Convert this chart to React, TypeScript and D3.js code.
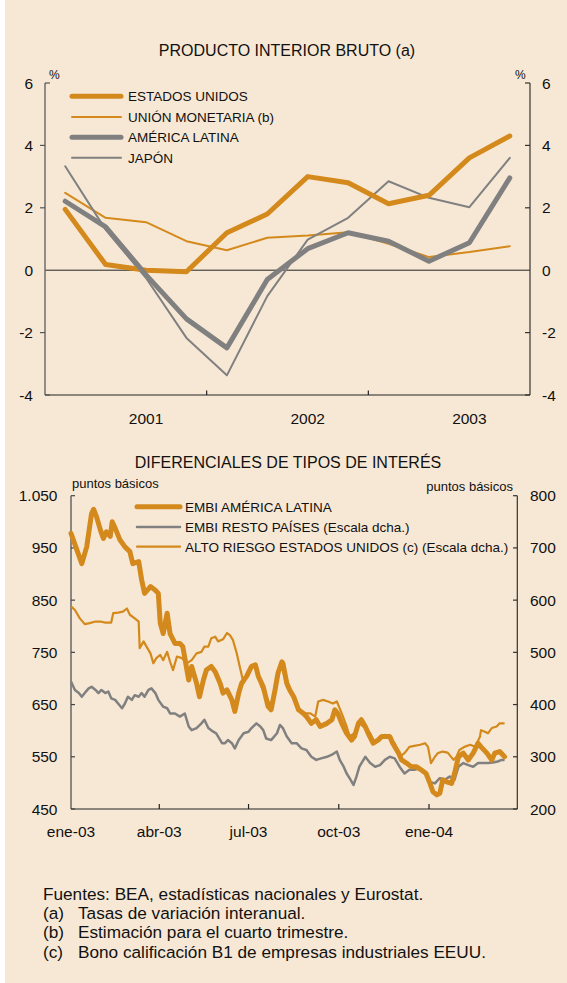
import React from 'react';
import * as d3 from 'd3';

// ---------- Top chart data (GDP, % yoy) ----------
const QUARTERS = ['I-01', 'II-01', 'III-01', 'IV-01', 'I-02', 'II-02', 'III-02', 'IV-02', 'I-03', 'II-03', 'III-03', 'IV-03'];
const YEAR_LABELS = ['2001', '2002', '2003'];
const YEAR_LABEL_QUARTERS = ['III-01', 'III-02', 'III-03'];
const YEAR_TICK_QUARTERS = ['I-02', 'I-03'];
const GDP_US = [1.95, 0.18, 0.0, -0.05, 1.2, 1.8, 3.0, 2.8, 2.13, 2.4, 3.6, 4.3];
const GDP_EMU = [2.48, 1.68, 1.54, 0.93, 0.64, 1.04, 1.11, 1.22, 0.85, 0.42, 0.58, 0.77];
const GDP_LATAM = [2.21, 1.39, -0.15, -1.56, -2.49, -0.3, 0.69, 1.2, 0.93, 0.29, 0.88, 2.96];
const GDP_JAPAN = [3.33, 1.3, -0.25, -2.17, -3.37, -0.83, 0.98, 1.68, 2.85, 2.32, 2.02, 3.6];
const GDP_TICKS = [6, 4, 2, 0, -2, -4];
const GDP_LEGEND = ['ESTADOS UNIDOS', 'UNIÓN MONETARIA (b)', 'AMÉRICA LATINA', 'JAPÓN'];

// ---------- Bottom chart data (spreads, basis points) ----------
// [days since 1 Jan 2003, value]
const EMBI_LATAM: [number, number][] = [
  [0, 978], [11, 920], [16, 952], [21, 1016], [23, 1024], [26, 1010], [30, 984], [33, 968], [36, 981], [40, 972],
  [42, 1000], [45, 988], [50, 965], [55, 952], [60, 943], [63, 920], [69, 924], [72, 889], [75, 863], [81, 876],
  [86, 869], [89, 863], [91, 806], [94, 786], [98, 825], [101, 786], [106, 767], [111, 767], [114, 761], [120, 697],
  [123, 723], [128, 691], [131, 665], [135, 697], [138, 716], [143, 723], [147, 713], [152, 691], [155, 672], [159, 678],
  [164, 659], [167, 637], [171, 672], [174, 691], [179, 704], [184, 723], [188, 726], [191, 704], [196, 684], [201, 646],
  [204, 640], [208, 678], [211, 710], [215, 732], [216, 729], [220, 691], [223, 678], [227, 665], [232, 640], [237, 633],
  [240, 627], [245, 614], [250, 621], [254, 608], [261, 614], [266, 621], [269, 640], [272, 633], [276, 614], [281, 595],
  [286, 582], [289, 589], [293, 614], [296, 621], [300, 608], [303, 595], [308, 576], [313, 582], [317, 589], [320, 589],
  [325, 589], [328, 576], [334, 557], [337, 544], [342, 538], [347, 531], [352, 531], [357, 525], [362, 518], [366, 499],
  [369, 483], [373, 477], [376, 480], [379, 506], [383, 502], [388, 499], [391, 518], [395, 550], [400, 557], [405, 544],
  [410, 557], [415, 576], [418, 569], [424, 557], [429, 544], [432, 557], [437, 560], [442, 550],
];
const EMBI_REST: [number, number][] = [
  [0, 444], [4, 428], [8, 422], [11, 415], [14, 422], [18, 431], [21, 434], [25, 428], [28, 422], [31, 428],
  [35, 422], [38, 425], [41, 412], [45, 409], [48, 402], [52, 393], [55, 402], [58, 415], [62, 409], [65, 418],
  [69, 415], [72, 422], [75, 415], [79, 428], [82, 431], [86, 422], [89, 409], [94, 396], [98, 393], [101, 383],
  [106, 383], [111, 377], [116, 383], [120, 358], [123, 351], [128, 355], [133, 364], [136, 371], [140, 355], [145, 348],
  [148, 345], [154, 326], [157, 326], [160, 332], [164, 326], [167, 316], [171, 332], [176, 345], [181, 348], [184, 355],
  [189, 364], [193, 358], [196, 351], [199, 335], [204, 332], [210, 345], [213, 361], [216, 355], [220, 339], [225, 326],
  [230, 326], [235, 316], [240, 313], [245, 300], [250, 294], [255, 297], [261, 300], [266, 304], [271, 310], [274, 294],
  [278, 281], [281, 268], [284, 259], [288, 246], [291, 262], [294, 281], [300, 300], [305, 288], [310, 281], [315, 284],
  [320, 294], [325, 300], [330, 297], [335, 281], [340, 268], [345, 275], [350, 275], [356, 278], [361, 268], [366, 252],
  [371, 249], [376, 259], [381, 256], [386, 262], [391, 256], [395, 281], [400, 288], [405, 284], [410, 281], [415, 288],
  [420, 288], [425, 288], [430, 289], [435, 291], [439, 294], [442, 294],
];
const HIGH_YIELD_US: [number, number][] = [
  [0, 588], [4, 581], [9, 565], [14, 554], [19, 556], [25, 559], [30, 559], [35, 557], [41, 557], [43, 575],
  [48, 576], [53, 578], [57, 584], [60, 572], [65, 565], [69, 559], [70, 508], [74, 521], [77, 511], [81, 498],
  [84, 479], [87, 489], [91, 495], [94, 485], [98, 501], [101, 482], [104, 466], [108, 492], [113, 489], [118, 479],
  [123, 485], [128, 498], [133, 501], [136, 511], [140, 511], [143, 527], [147, 530], [150, 521], [155, 525], [159, 537],
  [162, 533], [165, 524], [169, 498], [172, 473], [176, 441], [179, 454], [184, 476], [189, 473], [194, 434], [199, 415],
  [204, 396], [208, 422], [213, 473], [216, 466], [220, 434], [225, 422], [228, 409], [233, 390], [238, 383], [244, 383],
  [249, 377], [252, 406], [257, 409], [262, 406], [267, 402], [271, 406], [276, 383], [281, 358], [284, 339], [289, 345],
  [294, 364], [300, 355], [305, 345], [310, 326], [315, 339], [320, 342], [325, 335], [330, 326], [335, 300], [340, 307],
  [345, 319], [350, 321], [356, 323], [361, 326], [364, 319], [367, 288], [371, 300], [374, 307], [379, 310], [384, 308],
  [390, 294], [393, 300], [396, 313], [401, 319], [407, 323], [412, 319], [417, 339], [418, 351], [422, 348], [425, 345],
  [429, 355], [434, 358], [437, 364], [442, 364],
];
const SPREAD_START = Date.UTC(2003, 0, 1);
const SPREAD_END = Date.UTC(2004, 2, 31);
const LEFT_TICKS = [1050, 950, 850, 750, 650, 550, 450];
const RIGHT_TICKS = [800, 700, 600, 500, 400, 300, 200];
const MONTH_TICKS = [Date.UTC(2003, 0, 1), Date.UTC(2003, 3, 1), Date.UTC(2003, 6, 1), Date.UTC(2003, 9, 1), Date.UTC(2004, 0, 1)];
const MONTH_LABELS = ['ene-03', 'abr-03', 'jul-03', 'oct-03', 'ene-04'];
const SPREAD_LEGEND = ['EMBI AMÉRICA LATINA', 'EMBI RESTO PAÍSES (Escala dcha.)', 'ALTO RIESGO ESTADOS UNIDOS (c) (Escala dcha.)'];

const NOTES = [
  ['', 'Fuentes: BEA, estadísticas nacionales y Eurostat.'],
  ['(a)', 'Tasas de variación interanual.'],
  ['(b)', 'Estimación para el cuarto trimestre.'],
  ['(c)', 'Bono calificación B1 de empresas industriales EEUU.'],
];

const ORANGE = '#D4891C';
const GREY = '#808080';
const BG = '#F7E8D5';
const FONT = '"Liberation Sans", Arial, Helvetica, sans-serif';
const INK = '#111111';

export default function App() {
  // Top chart scales
  const xQ = d3.scaleBand<string>().domain(QUARTERS).range([45, 530]);
  const bw = xQ.bandwidth();
  const qx = (q: string) => (xQ(q) as number) + bw / 2;
  const yG = d3.scaleLinear().domain([-4, 6]).range([395, 83]);
  const gdpLine = d3
    .line<number>()
    .x((_, i) => qx(QUARTERS[i]))
    .y((d) => yG(d));

  // Bottom chart scales
  const xT = d3.scaleUtc().domain([SPREAD_START, SPREAD_END]).range([71, 517.3]);
  const yL = d3.scaleLinear().domain([450, 1050]).range([809, 495.7]);
  const yR = d3.scaleLinear().domain([200, 800]).range([809, 495.7]);
  const dayDate = (d: number) => d3.utcDay.offset(new Date(SPREAD_START), d);
  const lineL = d3
    .line<[number, number]>()
    .x((d) => xT(dayDate(d[0])))
    .y((d) => yL(d[1]));
  const lineR = d3
    .line<[number, number]>()
    .x((d) => xT(dayDate(d[0])))
    .y((d) => yR(d[1]));
  const fmtThousands = (v: number) => (v >= 1000 ? d3.format(',')(v).replace(',', '.') : String(v));

  const gdpSeries = [
    { data: GDP_US, color: ORANGE, w: 5 },
    { data: GDP_EMU, color: ORANGE, w: 2 },
    { data: GDP_LATAM, color: GREY, w: 5 },
    { data: GDP_JAPAN, color: GREY, w: 2 },
  ];
  const gdpDrawOrder = [1, 3, 0, 2];
  const legendBaselines = [101.3, 122, 142.3, 162.7];

  const spreadLegend = [
    { color: ORANGE, w: 5 },
    { color: GREY, w: 2.5 },
    { color: ORANGE, w: 2.2 },
  ];
  const spreadLegendBaselines = [511.7, 532, 551.7];
  const noteY = (i: number) => 900 + i * 19.2;

  return (
    <svg
      width={567}
      height={983}
      style={{ position: 'absolute', left: 0, top: 0, display: 'block' }}
      fontFamily={FONT}
    >
      <rect x={0} y={0} width={567} height={983} fill="#ffffff" />
      <rect x={5} y={0} width={562} height={983} fill={BG} />

      {/* ---------------- TOP CHART ---------------- */}
      <text x={287} y={56} textAnchor="middle" fontSize={16} fill={INK}>
        PRODUCTO INTERIOR BRUTO (a)
      </text>
      <text x={49} y={79} fontSize={12} fill={INK}>%</text>
      <text x={515} y={79} fontSize={12} fill={INK}>%</text>

      {/* zero line */}
      <line x1={45} x2={530} y1={yG(0)} y2={yG(0)} stroke="#222" strokeWidth={1} />

      {/* axes */}
      <line x1={45} x2={45} y1={yG(6)} y2={yG(-4)} stroke="#6e6e6e" strokeWidth={1.5} />
      <line x1={530} x2={530} y1={yG(6)} y2={yG(-4)} stroke="#333" strokeWidth={1.2} />
      <line x1={45} x2={530} y1={yG(-4)} y2={yG(-4)} stroke="#222" strokeWidth={1.2} />
      {GDP_TICKS.map((t) => {
        const y = yG(t);
        const edge = t === 6 || t === -4;
        return (
          <g key={'gt' + t}>
            {t !== 0 && (
              <line x1={edge ? 45 : 40} x2={edge ? 50 : 45} y1={y} y2={y} stroke="#555" strokeWidth={1.2} />
            )}
            {t !== 0 && <line x1={525} x2={530} y1={y} y2={y} stroke="#333" strokeWidth={1.2} />}
            <text x={33} y={y} dy="0.36em" textAnchor="end" fontSize={15.5} fill={INK}>
              {t}
            </text>
            <text x={542} y={y} dy="0.36em" textAnchor="start" fontSize={15.5} fill={INK}>
              {t}
            </text>
          </g>
        );
      })}
      {YEAR_TICK_QUARTERS.map((q) => (
        <line key={q} x1={xQ(q)} x2={xQ(q)} y1={yG(-4)} y2={yG(-4) - 4.5} stroke="#222" strokeWidth={1.2} />
      ))}
      {YEAR_LABELS.map((lbl, i) => (
        <text key={lbl} x={qx(YEAR_LABEL_QUARTERS[i])} y={424} textAnchor="middle" fontSize={15.5} fill={INK}>
          {lbl}
        </text>
      ))}

      {/* series */}
      {gdpDrawOrder.map((k) => (
        <path
          key={'gs' + k}
          d={gdpLine(gdpSeries[k].data) || ''}
          fill="none"
          stroke={gdpSeries[k].color}
          strokeWidth={gdpSeries[k].w}
          strokeLinejoin="round"
          strokeLinecap="round"
        />
      ))}

      {/* legend */}
      {GDP_LEGEND.map((lbl, i) => (
        <g key={lbl}>
          <line
            x1={72}
            x2={121}
            y1={legendBaselines[i] - 5}
            y2={legendBaselines[i] - 5}
            stroke={gdpSeries[i].color}
            strokeWidth={gdpSeries[i].w}
            strokeLinecap="round"
          />
          <text x={128} y={legendBaselines[i]} fontSize={13.5} fill={INK}>
            {lbl}
          </text>
        </g>
      ))}

      {/* ---------------- BOTTOM CHART ---------------- */}
      <text x={288} y={468.3} textAnchor="middle" fontSize={16} fill={INK}>
        DIFERENCIALES DE TIPOS DE INTERÉS
      </text>
      <text x={72} y={488} fontSize={13} fill={INK}>puntos básicos</text>
      <text x={513} y={490.5} textAnchor="end" fontSize={13} fill={INK}>puntos básicos</text>

      {/* legend */}
      {SPREAD_LEGEND.map((lbl, i) => (
        <g key={lbl}>
          <line
            x1={137}
            x2={180}
            y1={spreadLegendBaselines[i] - 5}
            y2={spreadLegendBaselines[i] - 5}
            stroke={spreadLegend[i].color}
            strokeWidth={spreadLegend[i].w}
            strokeLinecap="round"
          />
          <text x={185} y={spreadLegendBaselines[i]} fontSize={13.5} fill={INK}>
            {lbl}
          </text>
        </g>
      ))}

      <line x1={71} x2={71} y1={yL(1050)} y2={yL(450)} stroke="#666" strokeWidth={1.5} />
      <line x1={517.3} x2={517.3} y1={yR(800)} y2={yR(200)} stroke="#333" strokeWidth={1.2} />
      <line x1={71} x2={517.3} y1={yL(450)} y2={yL(450)} stroke="#222" strokeWidth={1.2} />
      {LEFT_TICKS.map((t) => (
        <g key={'lt' + t}>
          <line x1={71} x2={75} y1={yL(t)} y2={yL(t)} stroke="#444" strokeWidth={1.2} />
          <text x={57.5} y={yL(t)} dy="0.36em" textAnchor="end" fontSize={15.5} fill={INK}>
            {fmtThousands(t)}
          </text>
        </g>
      ))}
      {RIGHT_TICKS.map((t) => (
        <g key={'rt' + t}>
          <line x1={513} x2={517.3} y1={yR(t)} y2={yR(t)} stroke="#333" strokeWidth={1.2} />
          <text x={530} y={yR(t)} dy="0.36em" textAnchor="start" fontSize={15.5} fill={INK}>
            {t}
          </text>
        </g>
      ))}
      {MONTH_TICKS.map((m, i) => (
        <g key={'m' + i}>
          {i > 0 && (
            <line x1={xT(m)} x2={xT(m)} y1={yL(450)} y2={yL(450) - 5} stroke="#222" strokeWidth={1.2} />
          )}
          <text x={xT(m)} y={837} textAnchor="middle" fontSize={15.5} fill={INK}>
            {MONTH_LABELS[i]}
          </text>
        </g>
      ))}

      <path d={lineR(EMBI_REST) || ''} fill="none" stroke={GREY} strokeWidth={2.5} strokeLinejoin="round" />
      <path d={lineL(EMBI_LATAM) || ''} fill="none" stroke={ORANGE} strokeWidth={5} strokeLinejoin="round" strokeLinecap="round" />
      <path d={lineR(HIGH_YIELD_US) || ''} fill="none" stroke={ORANGE} strokeWidth={2.2} strokeLinejoin="round" />

      {/* ---------------- NOTES ---------------- */}
      {NOTES.map((n, i) => (
        <g key={'n' + i}>
          {n[0] ? (
            <>
              <text x={43} y={noteY(i)} fontSize={17.2} fill={INK}>
                {n[0]}
              </text>
              <text x={78} y={noteY(i)} fontSize={17.2} fill={INK}>
                {n[1]}
              </text>
            </>
          ) : (
            <text x={43} y={noteY(i)} fontSize={17.2} fill={INK}>
              {n[1]}
            </text>
          )}
        </g>
      ))}
    </svg>
  );
}
